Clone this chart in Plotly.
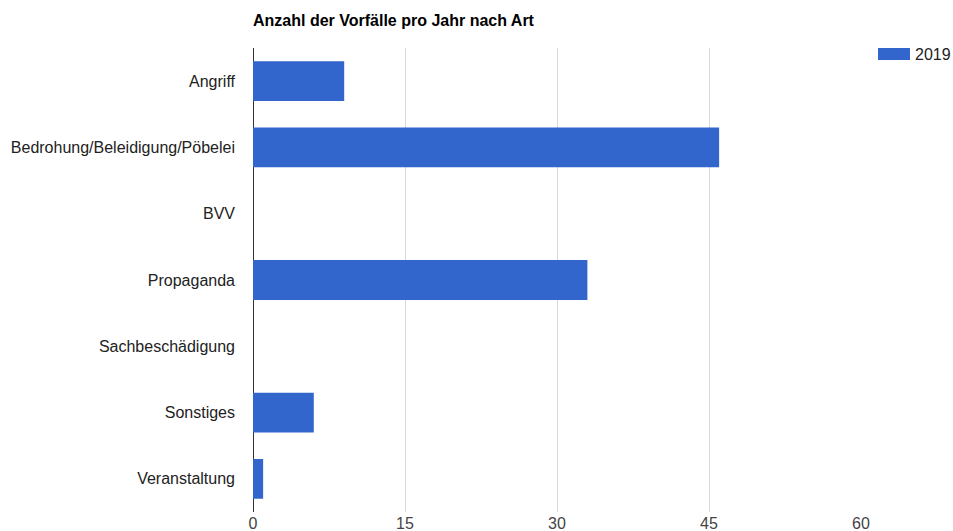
import plotly.graph_objects as go

categories = ["Angriff", "Bedrohung/Beleidigung/Pöbelei", "BVV", "Propaganda",
              "Sachbeschädigung", "Sonstiges", "Veranstaltung"]
values_2019 = [9, 46, 0, 33, 0, 6, 1]
series_name = "2019"
x_ticks = [0, 15, 30, 45, 60]
title_text = "Anzahl der Vorfälle pro Jahr nach Art"

W, H = 953, 531
L, R, T, B = 253, 92, 48, 19
plot_w = W - L - R

fig = go.Figure()
fig.add_trace(go.Bar(
    y=categories, x=values_2019, orientation="h", name=series_name,
    marker=dict(color="#3366cc", line=dict(width=0)), showlegend=False,
))

font = "Liberation Sans, Arial, sans-serif"
fig.update_layout(
    width=W, height=H,
    margin=dict(l=L, r=R, t=T, b=B, autoexpand=False),
    paper_bgcolor="white", plot_bgcolor="white",
    bargap=0.4,
    font=dict(family=font, size=16, color="#222"),
    xaxis=dict(range=[0, 60], tickvals=x_ticks, showgrid=True, gridcolor="#d9d9d9",
               gridwidth=1, zeroline=True, zerolinecolor="#333", zerolinewidth=1,
               tickfont=dict(size=16, color="#444"), ticks="", fixedrange=True,
               showline=False),
    yaxis=dict(autorange="reversed", showgrid=False, ticks="", ticklabelstandoff=17,
               tickfont=dict(size=16, color="#222"), showline=False),
    title=dict(text="<b>" + title_text + "</b>", x=L / W, xanchor="left",
               y=1 - 20 / H, yanchor="middle", yref="container", xref="container",
               font=dict(family=font, size=16, color="#000")),
)

# legend drawn manually (Google-Charts style wide swatch)
lx0 = (878 - L) / plot_w
lx1 = (910 - L) / plot_w
fig.add_shape(type="rect", xref="paper", yref="paper", x0=lx0, x1=lx1,
              y0=1 + (T - 60) / (H - T - B), y1=1 + (T - 48) / (H - T - B),
              fillcolor="#3366cc", line=dict(width=0))
fig.add_annotation(xref="paper", yref="paper", x=(913 - L) / plot_w,
                   y=1 + (T - 54) / (H - T - B), text=series_name, showarrow=False,
                   xanchor="left", yanchor="middle",
                   font=dict(family=font, size=16, color="#222"))

fig.write_html("out.html")
